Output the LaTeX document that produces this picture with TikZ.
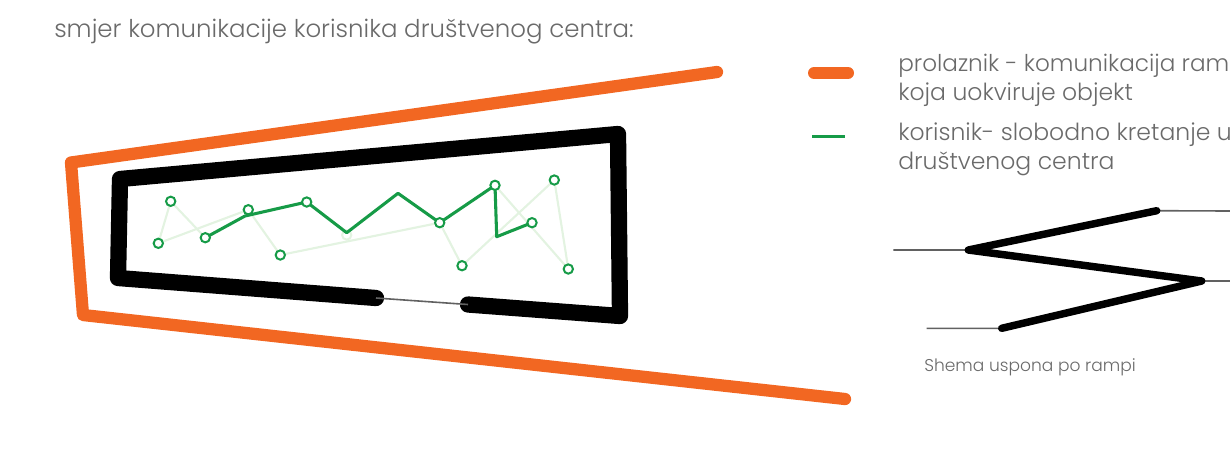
\documentclass[tikz,border=0pt]{standalone}
\usepackage{fontspec}
\setmainfont{Poppins Light}
\definecolor{rampor}{HTML}{F26722}
\definecolor{usergr}{HTML}{169B47}
\definecolor{palegr}{HTML}{E3F3E1}
\definecolor{txtgr}{HTML}{6A6A6A}
\tikzset{
 orangeramp/.style={draw=rampor,line width=9.2pt,line cap=round,line join=round},
 blackramp/.style={draw=black,line width=12.2pt,line cap=round,line join=round},
 thinramp/.style={draw=black,line width=5.6pt,line cap=round,line join=round},
 grayl/.style={draw=black!62,line width=1.2pt},
 walk/.style={draw=usergr,line width=2.3pt,line join=round},
 palewalk/.style={draw=palegr,line width=1.6pt,line join=round},
 stop/.style={circle,draw=usergr,fill=white,line width=1.5pt,minimum size=7pt,inner sep=0pt},
 palestop/.style={circle,draw=palegr,fill=white,line width=1.5pt,minimum size=7pt,inner sep=0pt},
 lab/.style={anchor=base west,text=txtgr,inner sep=0pt,font=\fontsize{17.65pt}{20pt}\selectfont},
}
\begin{document}
\begin{tikzpicture}[x=0.75pt,y=-0.75pt]
\useasboundingbox (0,0) rectangle (1230,455);
% orange outer ramp
\coordinate (o1) at (717,72);\coordinate (o2) at (71,162.5);\coordinate (o3) at (83,315);\coordinate (o4) at (845,399);
\draw[orangeramp] (o1)--(o2)--(o3)--(o4);
% black inner ramp
\coordinate (b1) at (376,298);\coordinate (b2) at (118,278);\coordinate (b3) at (120,179);\coordinate (b4) at (618,134);\coordinate (b5) at (620,316);\coordinate (b6) at (468,304.5);
\draw[blackramp] (b1)--(b2)--(b3)--(b4)--(b5)--(b6);
\draw[grayl] (b1)--(b6);
% stops
\coordinate (w1) at (245,216);\coordinate (w2) at (346.7,232.7);\coordinate (w3) at (398,193.3);\coordinate (w4) at (496.7,236.7);
\draw[palewalk] (205.3,237.7) coordinate (a1) -- (170.7,201.3) coordinate (a2) -- (158.3,243.3) coordinate (a3) -- (248.3,209.7) coordinate (a4) -- (280.3,255) coordinate (a5) -- (439.7,222.7) coordinate (a6) -- (462,265.7) coordinate (a7) -- (554.3,180) coordinate (a8) -- (568.3,269) coordinate (a9) -- (495,185.3) coordinate (a10);
\node[palestop] (p1) at (346.7,235) {};
\draw[walk] (a1)--(w1)--(306.7,202) coordinate (a11)--(w2)--(w3)--(a6)--(a10)--(w4)--(532,222.7) coordinate (a12);
\foreach \n/\p in {s1/a1,s2/a2,s3/a3,s4/a4,s5/a5,s6/a6,s7/a7,s8/a8,s9/a9,s10/a10,s11/a11,s12/a12}{\node[stop] (\n) at (\p) {};}
% legend
\coordinate (l1) at (814,73);\coordinate (l2) at (848,73);\coordinate (l3) at (812,136.7);\coordinate (l4) at (845,136.7);
\draw[orangeramp,line width=9pt] (l1)--(l2);
\draw[walk] (l3)--(l4);
\node[lab,font=\fontsize{18.35pt}{20pt}\selectfont] (t1) at (54,37) {smjer komunikacije korisnika društvenog centra:};
\node[lab,font=\fontsize{17.35pt}{20pt}\selectfont] (t2) at (898,71) {prolaznik - komunikacija ram};
\node[lab] (t3) at (898,100) {koja uokviruje objekt};
\node[lab] (t4) at (898,140) {korisnik- slobodno kretanje u};
\node[lab] (t5) at (898,169) {društvenog centra};
% ramp scheme
\coordinate (r1) at (1156.7,210.7);\coordinate (r2) at (968.3,250);\coordinate (r3) at (1201.7,281);\coordinate (r4) at (1001.7,328.3);
\coordinate (g1) at (1230,211);\coordinate (g2) at (893.3,250);\coordinate (g3) at (1230,281);\coordinate (g4) at (926.7,328.3);
\draw[grayl] (r1)--(g1) (r2)--(g2) (r3)--(g3) (r4)--(g4);
\draw[thinramp] (r1)--(r2)--(r3)--(r4);
\node[lab,font=\fontsize{12.8pt}{15pt}\selectfont] (t6) at (924,371) {Shema uspona po rampi};
\end{tikzpicture}
\end{document}
